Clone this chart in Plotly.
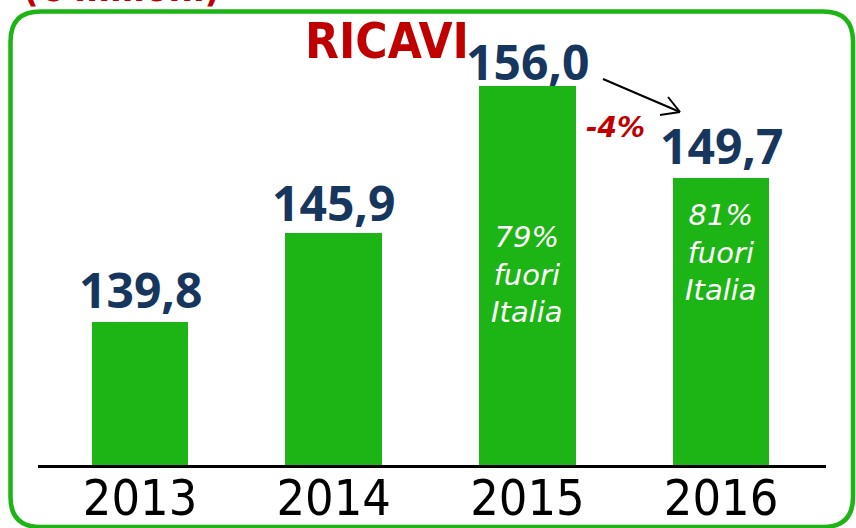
import plotly.graph_objects as go

years = ["2013", "2014", "2015", "2016"]
revenues = [139.8, 145.9, 156.0, 149.7]
value_labels = ["139,8", "145,9", "156,0", "149,7"]
inner_labels = ["", "", "79%<br>fuori<br>Italia", "81%<br>fuori<br>Italia"]
inner_mid = [None, None, 143.1, 144.6]
title_text = "RICAVI"
unit_text = "(€ milioni)"
change_text = "-4%"

GREEN = "#1DB515"
NAVY = "#17365D"
RED = "#C00000"

W, H = 856, 528
ML, MR, MT, MB = 38, 30, 28, 63
PW, PH = W - ML - MR, H - MT - MB
label_shift = [-2, -4, -10, -2]


def px(x):
    return (x - ML) / PW


def py(y):
    return (H - MB - y) / PH


fig = go.Figure()
fig.add_trace(go.Bar(x=years, y=revenues, width=0.5, marker=dict(color=GREEN, line=dict(width=0)),
                     hoverinfo="skip"))

ann = []
for i, (v, lab) in enumerate(zip(revenues, value_labels)):
    ann.append(dict(x=i, y=v, xref="x", yref="y", text=lab, showarrow=False, yanchor="bottom",
                    yshift=label_shift[i], font=dict(family="Open Sans", size=48, color=NAVY, weight="bold")))
for i, (lab, mid) in enumerate(zip(inner_labels, inner_mid)):
    if lab:
        ann.append(dict(x=i, y=mid, xref="x", yref="y", text=lab, showarrow=False, yanchor="middle",
                        font=dict(family="DejaVu Sans", size=29, color="white", style="italic")))
ann.append(dict(x=px(387), y=py(41), xref="paper", yref="paper", text=title_text, showarrow=False,
                xanchor="center", yanchor="middle",
                font=dict(family="DejaVu Sans Condensed", size=49, color=RED, weight="bold")))
ann.append(dict(x=px(615), y=py(127), xref="paper", yref="paper", text=change_text, showarrow=False,
                xanchor="center", yanchor="middle",
                font=dict(family="DejaVu Sans", size=28, color=RED, weight="bold", style="italic")))
ann.append(dict(x=px(121), y=py(-12), xref="paper", yref="paper", text=unit_text, showarrow=False,
                xanchor="center", yanchor="middle",
                font=dict(family="DejaVu Sans Condensed", size=38, color=RED, weight="bold")))

shapes = []
x0, x1, y0, y1, r = 10.5, 853, 11.5, 527, 30


def P(x, y):
    return f"{px(x)},{py(y)}"


path = (f"M {P(x0 + r, y0)} L {P(x1 - r, y0)} Q {P(x1, y0)} {P(x1, y0 + r)} "
        f"L {P(x1, y1 - r)} Q {P(x1, y1)} {P(x1 - r, y1)} L {P(x0 + r, y1)} "
        f"Q {P(x0, y1)} {P(x0, y1 - r)} L {P(x0, y0 + r)} Q {P(x0, y0)} {P(x0 + r, y0)} Z")
shapes.append(dict(type="path", path=path, xref="paper", yref="paper", line=dict(color=GREEN, width=4.5),
                   fillcolor="rgba(0,0,0,0)", layer="below"))
for (a, b, c, d) in [(603, 79, 680, 112), (668, 97, 680, 112), (660, 115, 680, 112)]:
    shapes.append(dict(type="line", xref="paper", yref="paper", x0=px(a), y0=py(b), x1=px(c), y1=py(d),
                       line=dict(color="black", width=2)))

fig.update_layout(
    width=W, height=H, margin=dict(l=ML, r=MR, t=MT, b=MB, autoexpand=False),
    paper_bgcolor="white", plot_bgcolor="white", showlegend=False,
    annotations=ann, shapes=shapes, bargap=0,
    xaxis=dict(type="category", range=[-0.527, 3.542], showline=True, linecolor="black", linewidth=3,
               ticks="", showgrid=False, zeroline=False, automargin=False, ticklabelstandoff=-13,
               tickfont=dict(family="DejaVu Sans Condensed", size=50, color="black")),
    yaxis=dict(range=[130, 160], visible=False, showgrid=False, zeroline=False, automargin=False),
)
fig.write_html("out.html", config={"displayModeBar": False},
               post_script="document.body.style.margin='0';")
